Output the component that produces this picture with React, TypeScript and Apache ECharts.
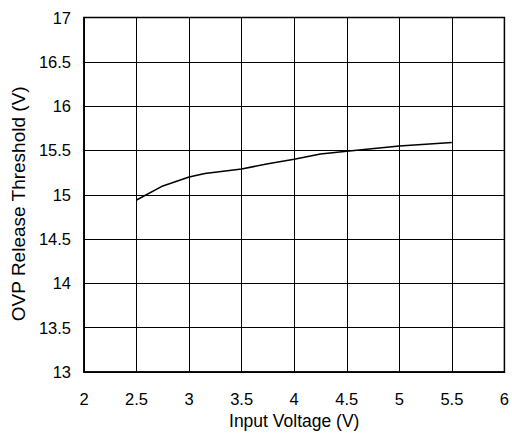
import React, { useEffect, useRef } from "react";
import * as echarts from "echarts";

const inputVoltage = [2.5, 2.75, 3.0, 3.15, 3.5, 3.75, 4.0, 4.25, 4.5, 5.0, 5.5];
const releaseThreshold = [14.94, 15.1, 15.2, 15.24, 15.29, 15.35, 15.4, 15.46, 15.49, 15.55, 15.59];
const xTicks = [2, 2.5, 3, 3.5, 4, 4.5, 5, 5.5, 6];
const yTicks = [13, 13.5, 14, 14.5, 15, 15.5, 16, 16.5, 17];

const FONT = "'Liberation Sans', Arial, sans-serif";

export default function App() {
  const ref = useRef<HTMLDivElement>(null);
  useEffect(() => {
    if (!ref.current) return;
    const chart = echarts.init(ref.current, null, { renderer: "svg" });
    const data = inputVoltage.map((x, i) => [x, releaseThreshold[i]]);
    chart.setOption({
      animation: false,
      backgroundColor: "#fff",
      grid: {
        left: 84,
        right: 6,
        top: 17.5,
        bottom: 64,
        show: true,
        borderColor: "#000",
        borderWidth: 1.5,
        backgroundColor: "transparent",
      },
      xAxis: {
        type: "value",
        min: xTicks[0],
        max: xTicks[xTicks.length - 1],
        interval: 0.5,
        name: "Input Voltage (V)",
        nameLocation: "middle",
        nameGap: 37,
        nameTextStyle: { fontFamily: FONT, fontSize: 17.5, color: "#000" },
        axisLine: { show: true, lineStyle: { color: "#000", width: 1.5 } },
        axisTick: { show: false },
        axisLabel: {
          margin: 18,
          fontFamily: FONT,
          fontSize: 16.5,
          color: "#000",
          formatter: (v: number) => String(v),
        },
        splitLine: { show: true, lineStyle: { color: "#000", width: 1 } },
      },
      yAxis: {
        type: "value",
        min: yTicks[0],
        max: yTicks[yTicks.length - 1],
        interval: 0.5,
        name: "OVP Release Threshold (V)",
        nameLocation: "middle",
        nameGap: 56,
        nameRotate: 90,
        nameTextStyle: {
          fontFamily: FONT,
          fontSize: 19,
          color: "#000",
          padding: [0, 18, 0, 0],
        },
        axisLine: { show: true, lineStyle: { color: "#000", width: 1.5 } },
        axisTick: { show: false },
        axisLabel: {
          margin: 13,
          fontFamily: FONT,
          fontSize: 16.5,
          color: "#000",
          formatter: (v: number) => String(v),
        },
        splitLine: { show: true, lineStyle: { color: "#000", width: 1 } },
      },
      series: [
        {
          type: "line",
          data,
          showSymbol: false,
          symbol: "none",
          lineStyle: { color: "#000", width: 1.6 },
          z: 5,
        },
      ],
    });
    return () => chart.dispose();
  }, []);
  return (
    <div
      ref={ref}
      style={{ position: "absolute", left: 0, top: 0, width: 512, height: 436 }}
    />
  );
}
